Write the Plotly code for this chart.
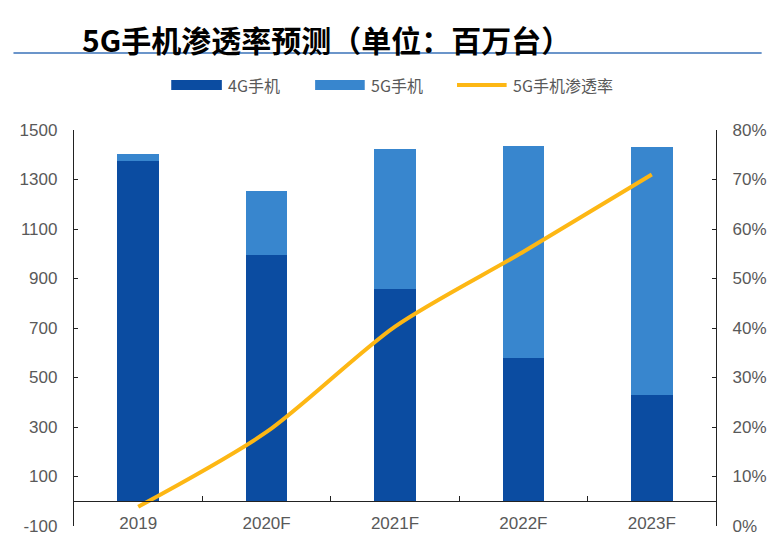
import plotly.graph_objects as go

categories = ["2019", "2020F", "2021F", "2022F", "2023F"]
phones_4g = [1375, 995, 856, 577, 428]
phones_5g = [28, 257, 566, 859, 1005]
penetration = [0.039, 0.190, 0.403, 0.554, 0.710]

left_ticks = [-100, 100, 300, 500, 700, 900, 1100, 1300, 1500]

C4G = "#0B4CA1"
C5G = "#3886CE"
CLINE = "#FDB714"
GRAY = "#595959"

OFF = 8  # default page body margin
W, H = 779 - OFF, 553 - OFF
# plot area in page pixels
PL, PR, PT, PB = 69, 716, 130, 526
L, R, T, B = PL - OFF, PR - OFF, PT - OFF, PB - OFF


def px(x):
    return (x - PL) / (PR - PL)


def py(y):
    return (PB - y) / (PB - PT)


fig = go.Figure()
fig.add_trace(go.Bar(x=categories, y=phones_4g, name="4G手机", marker=dict(color=C4G, line=dict(width=0)),
                     showlegend=False))
fig.add_trace(go.Bar(x=categories, y=phones_5g, name="5G手机", marker=dict(color=C5G, line=dict(width=0)),
                     showlegend=False))
fig.add_trace(go.Scatter(x=categories, y=penetration, name="5G手机渗透率", yaxis="y2", mode="lines",
                         line=dict(color=CLINE, width=4, shape="spline", smoothing=0.8), showlegend=False))

font_lat = "Liberation Sans, Arial, sans-serif"
font_cjk = "Noto Sans CJK SC, sans-serif"

shapes = [
    # title underline
    dict(type="line", xref="paper", yref="paper", x0=px(8), x1=px(762), y0=py(53), y1=py(53),
         line=dict(color="#3A72B8", width=1.5)),
    # legend swatches
    dict(type="rect", xref="paper", yref="paper", x0=px(167), x1=px(218), y0=py(90), y1=py(80),
         fillcolor=C4G, line=dict(width=0)),
    dict(type="rect", xref="paper", yref="paper", x0=px(312), x1=px(362), y0=py(90), y1=py(80),
         fillcolor=C5G, line=dict(width=0)),
    dict(type="line", xref="paper", yref="paper", x0=px(455), x1=px(505), y0=py(85), y1=py(85),
         line=dict(color=CLINE, width=4)),
]

annotations = [
    dict(text="<b>5G手机渗透率预测（单位：百万台）</b>", xref="paper", yref="paper", x=px(75), y=py(39),
         xanchor="left", yanchor="middle", showarrow=False,
         font=dict(family=font_cjk, size=30, color="#000000")),
    dict(text="4G手机", xref="paper", yref="paper", x=px(222), y=py(85), xanchor="left", yanchor="middle",
         showarrow=False, font=dict(family=font_cjk, size=16, color=GRAY)),
    dict(text="5G手机", xref="paper", yref="paper", x=px(366), y=py(85), xanchor="left", yanchor="middle",
         showarrow=False, font=dict(family=font_cjk, size=16, color=GRAY)),
    dict(text="5G手机渗透率", xref="paper", yref="paper", x=px(509), y=py(85), xanchor="left", yanchor="middle",
         showarrow=False, font=dict(family=font_cjk, size=16, color=GRAY)),
]

fig.update_layout(
    width=W, height=H,
    margin=dict(l=L, r=W - R, t=T, b=H - B, pad=0),
    paper_bgcolor="white", plot_bgcolor="white",
    barmode="stack", bargap=0.675,
    showlegend=False,
    shapes=shapes, annotations=annotations,
    xaxis=dict(
        anchor="free", position=100 / 1600,
        showline=True, linecolor="#222222", linewidth=1.3,
        ticks="inside", tickson="boundaries", ticklen=5, tickcolor="#222222", tickwidth=1.3,
        showgrid=False, zeroline=False,
        tickfont=dict(family=font_lat, size=17, color=GRAY),
        ticklabelstandoff=6,
    ),
    yaxis=dict(
        range=[-100, 1500], tickvals=left_ticks, ticktext=[str(v) for v in left_ticks],
        showline=True, linecolor="#222222", linewidth=1.3,
        ticks="inside", ticklen=4, tickcolor="#222222", tickwidth=1.3,
        showgrid=False, zeroline=False,
        tickfont=dict(family=font_lat, size=17, color=GRAY),
        ticklabelstandoff=12,
    ),
    yaxis2=dict(
        overlaying="y", side="right", range=[0, 0.8], dtick=0.1, tick0=0, tickformat=".0%",
        showline=True, linecolor="#222222", linewidth=1.3,
        ticks="inside", ticklen=4, tickcolor="#222222", tickwidth=1.3,
        showgrid=False, zeroline=False,
        tickfont=dict(family=font_lat, size=17, color=GRAY),
        ticklabelstandoff=12,
    ),
)

fig.write_html("out.html")
